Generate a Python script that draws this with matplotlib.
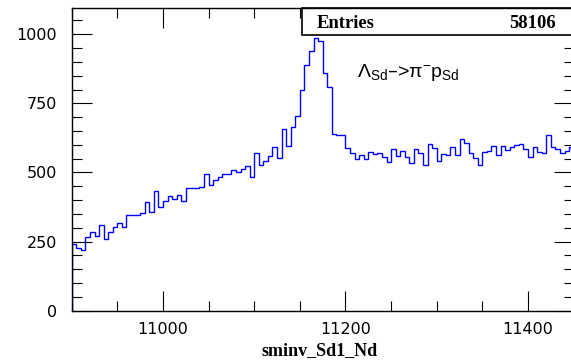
import numpy as np
import matplotlib
matplotlib.use('Agg')
from matplotlib import pyplot as plt
from matplotlib.patches import Rectangle

# histogram sminv_Sd1_Nd, 110 bins of width 5 from 10900 to 11450
xlow = 10900
xhigh = 11450
counts = [241, 227, 220, 268, 284, 270, 309, 259, 284, 303,
          319, 303, 346, 346, 346, 355, 392, 357, 434, 376,
          397, 415, 404, 420, 396, 444, 444, 445, 446, 493,
          455, 471, 484, 493, 493, 508, 502, 514, 522, 485,
          571, 526, 542, 560, 591, 551, 659, 596, 664, 706,
          800, 889, 941, 985, 976, 859, 808, 639, 634, 634,
          590, 572, 548, 562, 548, 575, 566, 570, 555, 537,
          584, 560, 578, 555, 533, 585, 570, 528, 604, 590,
          542, 566, 563, 593, 564, 620, 606, 569, 552, 527,
          573, 578, 596, 564, 596, 583, 593, 598, 602, 584,
          555, 591, 574, 570, 634, 593, 584, 569, 579, 591]
ymax = 1094

xticks = [11000, 11200, 11400]
yticks = [0, 250, 500, 750, 1000]
entries = 58106

label_x = 'sminv_Sd1_Nd'
label_decay = r'$\mathregular{\Lambda_{Sd}}$–>$\mathregular{\pi^{-}p_{Sd}}$'

edges = np.linspace(xlow, xhigh, len(counts) + 1)

fig = plt.figure(figsize=(5.71, 3.63), dpi=100)
fig.patch.set_facecolor('white')
ax = fig.add_axes([0.1256, 0.1441, 0.8790, 0.8331])

ax.stairs(counts, edges, color='#0000ff', lw=1.0, baseline=0)
ax.set_xlim(xlow, xhigh)
ax.set_ylim(0, ymax)

ax.set_xticks(xticks)
ax.set_yticks(yticks)
ax.set_xticks(np.arange(xlow, xhigh + 1, 50), minor=True)
ax.set_yticks(np.arange(0, ymax, 50), minor=True)
ax.tick_params(which='both', direction='in', top=True, right=True, width=0.8, color='black')
ax.tick_params(which='major', length=14.4)
ax.tick_params(which='minor', length=7.2)
ax.tick_params(axis='x', which='major', pad=8)
ax.tick_params(axis='y', which='major', pad=10.5)
for lab in ax.get_xticklabels() + ax.get_yticklabels():
    lab.set_fontfamily('DejaVu Sans')
    lab.set_fontsize(11.5)
for sp in ax.spines.values():
    sp.set_linewidth(1.0)

# stats box, ticks of the frame are drawn over it
box = Rectangle((0.4589, 0.9117), 0.6, 0.0883, transform=ax.transAxes,
                facecolor='white', edgecolor='black', lw=1.2, clip_on=False, zorder=2.1)
ax.add_patch(box)
fig.text(317 / 571, 1 - 28.3 / 363, 'Entries', family='Liberation Serif', weight='bold',
         fontsize=13.4, ha='left', va='baseline', zorder=2.2)
fig.text(556 / 571, 1 - 28.3 / 363, str(entries), family='Liberation Serif', weight='bold',
         fontsize=13.4, ha='right', va='baseline', zorder=2.2)

fig.text(357 / 571, 1 - 77.3 / 363, label_decay, family='Liberation Sans',
         fontsize=14, ha='left', va='baseline')
fig.text(320 / 571, 1 - 355 / 363, label_x, family='Liberation Serif', weight='bold',
         fontsize=13, ha='center', va='baseline')

fig.savefig('out.png', dpi=100)
